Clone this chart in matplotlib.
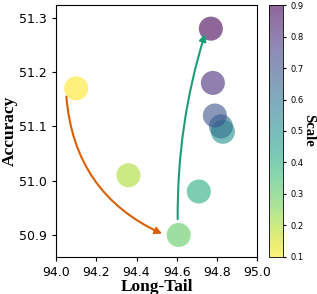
import matplotlib
matplotlib.use("Agg")
import matplotlib.pyplot as plt
import numpy as np

# data
long_tail = [94.10, 94.36, 94.61, 94.71, 94.83, 94.82, 94.79, 94.78, 94.77]
accuracy = [51.17, 51.01, 50.90, 50.98, 51.09, 51.10, 51.12, 51.18, 51.28]
scale = [0.1, 0.2, 0.3, 0.4, 0.5, 0.6, 0.7, 0.8, 0.9]

xticks = [94.0, 94.2, 94.4, 94.6, 94.8, 95.0]
yticks = [50.9, 51.0, 51.1, 51.2, 51.3]
cbar_ticks = [0.1, 0.2, 0.3, 0.4, 0.5, 0.6, 0.7, 0.8, 0.9]

fig = plt.figure(figsize=(3.17, 2.94), dpi=100)
ax = fig.add_axes([0.177, 0.127, 0.634, 0.855])
cax = fig.add_axes([0.849, 0.127, 0.044, 0.855])

sc = ax.scatter(long_tail, accuracy, c=scale, cmap='viridis_r', s=300,
                alpha=0.6, vmin=0.1, vmax=0.9, edgecolors='none')

ax.set_xlim(94.0, 95.0)
ax.set_ylim(50.86, 51.323)
ax.set_xticks(xticks)
ax.set_yticks(yticks)
ax.tick_params(labelsize=9, length=3)
ax.set_xlabel('Long-Tail', fontfamily='Liberation Serif', fontweight='bold', fontsize=12.5, labelpad=0)
ax.set_ylabel('Accuracy', fontfamily='Liberation Serif', fontweight='bold', fontsize=12.5, labelpad=1)

# arrows showing the trend
ax.annotate('', xy=(94.54, 50.90), xytext=(94.05, 51.16),
            arrowprops=dict(arrowstyle='-|>', color='#d95f02', lw=1.5,
                            connectionstyle='arc3,rad=0.3', mutation_scale=10))
ax.annotate('', xy=(94.745, 51.275), xytext=(94.605, 50.924),
            arrowprops=dict(arrowstyle='-|>', color='#1b9e77', lw=1.5,
                            connectionstyle='arc3,rad=-0.08', mutation_scale=10))

cbar = fig.colorbar(sc, cax=cax)
cbar.set_ticks(cbar_ticks)
cbar.ax.tick_params(labelsize=6, length=2)
cbar.outline.set_linewidth(0.6)
# colorbar label placed by hand, there is little room on the right
fig.text(0.974, 0.555, 'Scale', rotation=270, ha='center', va='center',
         fontfamily='Liberation Serif', fontweight='bold', fontsize=10.5)

fig.savefig('out.png', dpi=100)
